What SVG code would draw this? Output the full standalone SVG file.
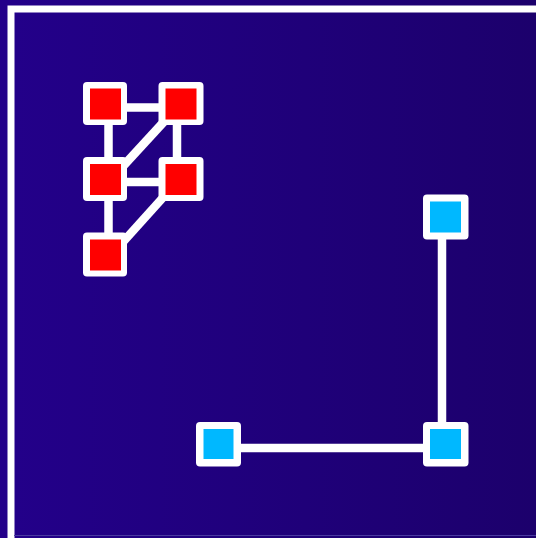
<svg xmlns="http://www.w3.org/2000/svg" width="536" height="538" viewBox="0 0 536 538">
<defs>
<linearGradient id="bg" x1="0" y1="0" x2="1" y2="0">
<stop offset="0" stop-color="#23008a"/>
<stop offset="1" stop-color="#1c006c"/>
</linearGradient>
<style>
.edge{stroke:#ffffff;stroke-width:8.5;fill:none}
.box{fill:#ffffff}
.red{fill:#ff0000}
.blue{fill:#00b8ff}
</style>
</defs>
<rect x="0" y="0" width="536" height="538" fill="url(#bg)"/>
<rect x="11" y="9" width="700" height="700" fill="none" stroke="#ffffff" stroke-width="7"/>
<line x1="14" y1="535.5" x2="536" y2="535.5" stroke="#4a3aa0" stroke-width="1"/>
<g id="connectors">
<line class="edge" x1="108.5" y1="107.5" x2="177" y2="107.5"/>
<line class="edge" x1="108.5" y1="107.5" x2="108.5" y2="182"/>
<line class="edge" x1="177" y1="107.5" x2="177" y2="182"/>
<line class="edge" x1="177" y1="107.5" x2="108.5" y2="182"/>
<line class="edge" x1="108.5" y1="182" x2="177" y2="182"/>
<line class="edge" x1="108.5" y1="182" x2="108.5" y2="258"/>
<line class="edge" x1="177" y1="182" x2="108.5" y2="258"/>
<line class="edge" x1="218.5" y1="448" x2="442" y2="448"/>
<line class="edge" x1="442" y1="217" x2="442" y2="448"/>
</g>
<g id="r1"><rect class="box" x="83" y="82" width="44" height="43" rx="4"/><rect class="red" x="90" y="88.5" width="31" height="31"/></g>
<g id="r2"><rect class="box" x="158.5" y="82" width="45" height="43" rx="4"/><rect class="red" x="165.5" y="88.5" width="31" height="31"/></g>
<g id="r3"><rect class="box" x="83" y="157" width="44" height="44" rx="4"/><rect class="red" x="90" y="164" width="31" height="31"/></g>
<g id="r4"><rect class="box" x="158.5" y="157" width="45" height="44" rx="4"/><rect class="red" x="165.5" y="164" width="31" height="31"/></g>
<g id="r5"><rect class="box" x="83" y="232.5" width="44" height="44" rx="4"/><rect class="red" x="90" y="239.5" width="31" height="31"/></g>
<g id="b1"><rect class="box" x="196" y="422" width="45" height="44.5" rx="4"/><rect class="blue" x="203.5" y="429" width="30" height="30"/></g>
<g id="b2"><rect class="box" x="423" y="194.5" width="45.5" height="45" rx="4"/><rect class="blue" x="430" y="201.5" width="31" height="31"/></g>
<g id="b3"><rect class="box" x="423" y="422" width="45.5" height="44.5" rx="4"/><rect class="blue" x="430" y="429" width="31" height="30"/></g>
</svg>
